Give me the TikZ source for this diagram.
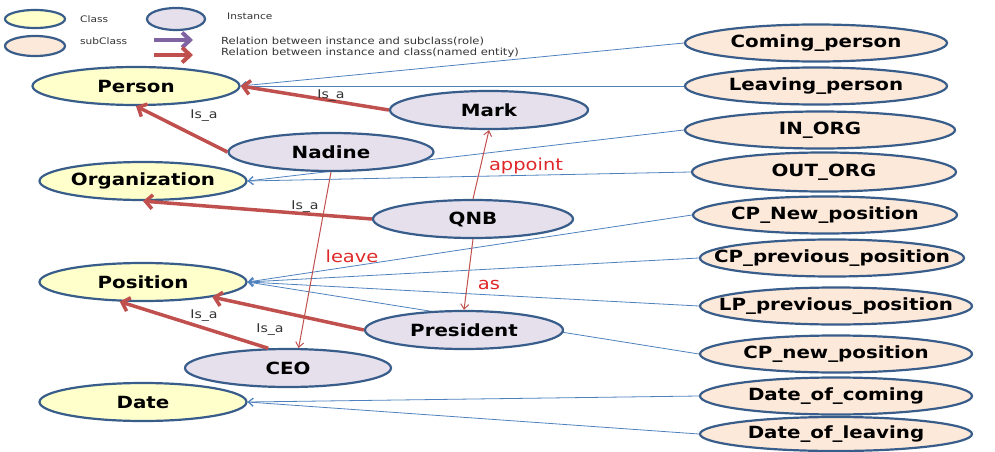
\documentclass[tikz,border=0pt]{standalone}
\usepackage{fontspec}
\setmainfont{DejaVu Sans}[FakeStretch=1.18]
\usetikzlibrary{arrows.meta,shapes.geometric,backgrounds}
\definecolor{classfill}{HTML}{FFFFCC}
\definecolor{instfill}{HTML}{E5E0EC}
\definecolor{subfill}{HTML}{FDE9D9}
\definecolor{ovalborder}{HTML}{385D8A}
\definecolor{isared}{HTML}{C0504D}
\definecolor{linkblue}{HTML}{4F81BD}
\definecolor{rolepurple}{HTML}{8064A2}
\definecolor{reltext}{HTML}{E02828}

\begin{document}
\begin{tikzpicture}[
        x=1pt, y=-1pt,
        ovaln/.style={draw=ovalborder, line width=2.2pt, ellipse, inner xsep=-60pt, inner ysep=0pt,
            font=\fontsize{16.8}{18}\selectfont\bfseries},
        classn/.style={ovaln, fill=classfill, minimum width=207pt, minimum height=38pt},
        instn/.style={ovaln, fill=instfill, minimum width=202pt, minimum height=38pt},
        subn/.style={ovaln, fill=subfill, minimum width=264pt, minimum height=37pt},
        isa/.style={draw=isared, line width=3.5pt, -{Straight Barb[length=7pt,width=14pt]}},
        rel/.style={draw=isared, line width=1pt, -{Straight Barb[length=5pt,width=8pt]}},
        sublink/.style={draw=linkblue, line width=0.8pt, -{Straight Barb[length=5pt,width=8pt]}},
        legarrow/.style={line width=4pt, -{Straight Barb[length=8pt,width=15pt]}},
        isalbl/.style={font=\fontsize{12}{14}\selectfont, text=black!80},
        rellbl/.style={font=\fontsize{16.5}{18}\selectfont, text=reltext},
        legtxt/.style={font=\fontsize{9}{10}\selectfont, text=black!80, anchor=west, inner sep=0pt},
    ]
    \useasboundingbox (0,0) rectangle (995,452);

    % legend
    \node[classn, minimum width=60pt, minimum height=18pt] (lgclass) at (35,19) {};
    \node[instn, minimum width=58pt, minimum height=22pt] (lginst) at (176,19) {};
    \node[subn, minimum width=60pt, minimum height=20pt] (lgsub) at (35,46) {};
    \node[legtxt] (lgclasst) at (80,19) {Class};
    \node[legtxt] (lginstt) at (227,16) {Instance};
    \node[legtxt] (lgsubt) at (80,41) {subClass};
    \node[legtxt, font=\fontsize{9.8}{11}\selectfont] (lgrolet) at (221,41) {Relation between instance and subclass(role)};
    \node[legtxt, font=\fontsize{9.8}{11}\selectfont] (lgnamedt) at (221,53) {Relation between instance and class(named entity)};
    \coordinate (lgrole1) at (154,40);
    \coordinate (lgrole2) at (193,40);
    \coordinate (lgnamed1) at (154,55);
    \coordinate (lgnamed2) at (193,55);
    \draw[legarrow, draw=rolepurple] (lgrole1) -- (lgrole2);
    \draw[legarrow, draw=isared] (lgnamed1) -- (lgnamed2);

    % classes
    \node[classn] (person) at (136,86) {Person};
    \node[classn] (org) at (143,181) {Organization};
    \node[classn] (position) at (143,282) {Position};
    \node[classn] (date) at (143,402) {Date};

    % instances
    \node[instn, minimum width=198pt] (mark) at (489,110) {Mark};
    \node[instn, minimum width=205pt] (nadine) at (331,152) {Nadine};
    \node[instn, minimum width=200pt] (qnb) at (473,219) {QNB};
    \node[instn, minimum width=198pt] (president) at (464,330) {President};
    \node[instn, minimum width=206pt] (ceo) at (288,368) {CEO};

    % subclasses
    \node[subn, minimum width=262pt] (coming) at (816,43) {Coming\_person};
    \node[subn, minimum width=262pt] (leaving) at (816,86) {Leaving\_person};
    \node[subn, minimum width=270pt] (inorg) at (820,130) {IN\_ORG};
    \node[subn, minimum height=39pt] (outorg) at (824,172) {OUT\_ORG};
    \node[subn] (cpnewpos) at (825,215) {CP\_New\_position};
    \node[subn] (cpprevpos) at (832,258) {CP\_previous\_position};
    \node[subn, minimum width=272pt] (lpprevpos) at (836,306) {LP\_previous\_position};
    \node[subn, minimum width=272pt] (cpnewpos2) at (836,354) {CP\_new\_position};
    \node[subn, minimum width=272pt] (datecoming) at (836,396) {Date\_of\_coming};
    \node[subn, minimum width=272pt, minimum height=34pt] (dateleaving) at (836,434) {Date\_of\_leaving};

    % subclass links
    \begin{scope}[on background layer]
    \draw[sublink] (coming.west) -- (person.east);
    \draw[sublink] (leaving.west) -- (person.east);
    \draw[sublink] (inorg.west) -- (org.east);
    \draw[sublink] (outorg.west) -- (org.east);
    \draw[sublink] (cpnewpos.west) -- (position.east);
    \draw[sublink] (cpprevpos.west) -- (position.east);
    \draw[sublink] (lpprevpos.west) -- (position.east);
    \draw[sublink] (cpnewpos2.west) -- (position.east);
    \draw[sublink] (datecoming.west) -- (date.east);
    \draw[sublink] (dateleaving.west) -- (date.east);
    \end{scope}

    % is_a
    \draw[isa] (mark.west) -- (person.east);
    \draw[isa] (nadine.west) -- (person.south);
    \draw[isa] (qnb.west) -- (org.south);
    \draw[isa] (president.west) -- (position);
    \draw[isa] (ceo.135) -- (position.220);
    \node[isalbl] (isamark) at (331,96) {Is\_a};
    \node[isalbl] (isanadine) at (204,116) {Is\_a};
    \node[isalbl] (isaqnb) at (305,207) {Is\_a};
    \node[isalbl] (isaceo) at (204,316) {Is\_a};
    \node[isalbl] (isapres) at (270,330) {Is\_a};

    % relations
    \draw[rel] (qnb.north) -- (mark.south);
    \draw[rel] (qnb.south) -- (president.north);
    \draw[rel] (nadine.south) -- (ceo.62);
    \node[rellbl] (appointlbl) at (526,166) {appoint};
    \node[rellbl] (aslbl) at (489,285) {as};
    \node[rellbl] (leavelbl) at (352,256) {leave};
\end{tikzpicture}
\end{document}
